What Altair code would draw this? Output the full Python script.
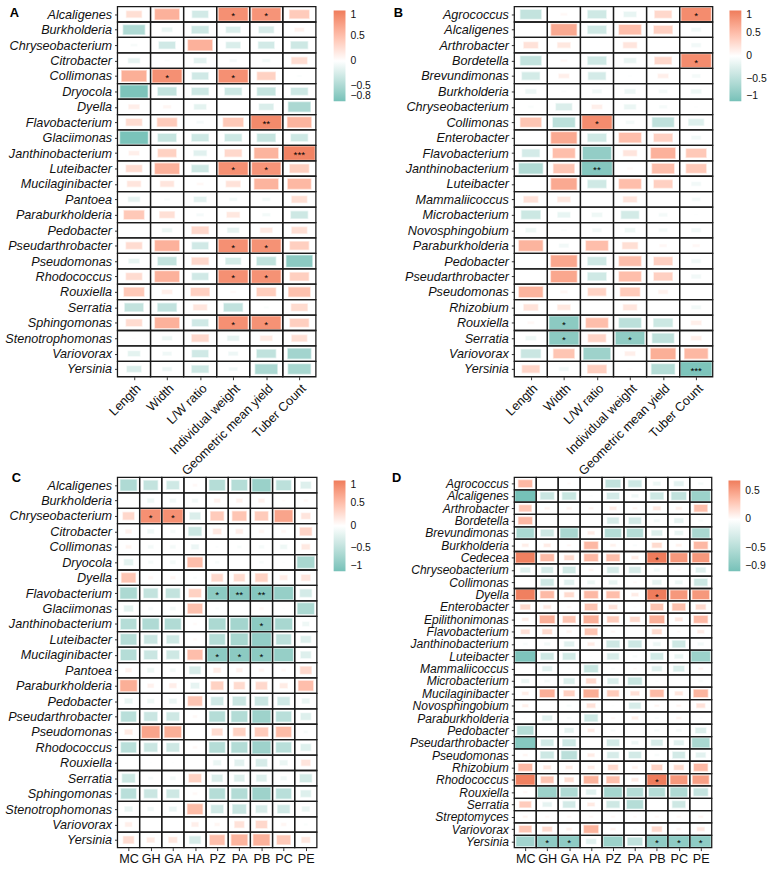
import json

import altair as alt
import pandas as pd

FONT = "Liberation Sans"
TEAL, WHITE, SALMON = "#76C1B8", "#FFFFFF", "#EF7C5C"

TRAITS = ["Length", "Width", "L/W ratio", "Individual weight",
          "Geometric mean yield", "Tuber Count"]
SITES = ["MC", "GH", "GA", "HA", "PZ", "PA", "PB", "PC", "PE"]

# ---------------- Panel A: genera vs tuber traits ----------------
A_GENERA = ["Alcaligenes", "Burkholderia", "Chryseobacterium", "Citrobacter",
            "Collimonas", "Dryocola", "Dyella", "Flavobacterium", "Glaciimonas",
            "Janthinobacterium", "Luteibacter", "Mucilaginibacter", "Pantoea",
            "Paraburkholderia", "Pedobacter", "Pseudarthrobacter", "Pseudomonas",
            "Rhodococcus", "Rouxiella", "Serratia", "Sphingomonas",
            "Stenotrophomonas", "Variovorax", "Yersinia"]
A_VALUES = [
    [0.25, 0.60, -0.27, 0.85, 0.82, 0.40],
    [-0.48, -0.12, -0.30, -0.22, -0.24, 0.10],
    [-0.05, -0.28, 0.60, -0.22, -0.27, -0.30],
    [-0.15, -0.03, -0.17, -0.06, -0.07, 0.26],
    [0.62, 0.85, -0.28, 0.85, 0.35, -0.03],
    [-0.76, -0.36, -0.30, -0.30, -0.35, -0.30],
    [0.13, 0.07, -0.16, 0.01, -0.22, -0.50],
    [0.27, 0.40, -0.06, 0.42, 0.90, 0.58],
    [-0.78, -0.35, -0.30, -0.30, -0.35, -0.30],
    [0.12, 0.35, -0.18, 0.30, 0.58, 0.95],
    [0.27, 0.60, -0.30, 0.85, 0.82, 0.38],
    [0.20, 0.20, 0.05, 0.22, 0.58, 0.55],
    [-0.15, -0.04, -0.17, -0.07, -0.07, 0.25],
    [0.42, 0.24, -0.06, 0.18, -0.07, -0.30],
    [0.02, -0.11, 0.30, -0.15, 0.16, 0.25],
    [0.27, 0.60, -0.28, 0.85, 0.84, 0.37],
    [-0.13, -0.36, 0.30, -0.25, -0.38, -0.68],
    [0.27, 0.60, -0.28, 0.85, 0.84, 0.37],
    [0.42, 0.12, 0.36, 0.04, 0.38, 0.48],
    [-0.36, -0.37, 0.20, -0.37, -0.03, 0.28],
    [0.27, 0.60, -0.28, 0.85, 0.84, 0.37],
    [0.02, -0.11, 0.30, -0.15, 0.16, 0.25],
    [-0.16, -0.09, -0.28, -0.10, -0.38, -0.55],
    [-0.22, -0.10, -0.30, -0.08, -0.50, -0.52],
]
A_STARS = [
    ("Alcaligenes", "Individual weight", "*"), ("Alcaligenes", "Geometric mean yield", "*"),
    ("Collimonas", "Width", "*"), ("Collimonas", "Individual weight", "*"),
    ("Flavobacterium", "Geometric mean yield", "**"),
    ("Janthinobacterium", "Tuber Count", "***"),
    ("Luteibacter", "Individual weight", "*"), ("Luteibacter", "Geometric mean yield", "*"),
    ("Pseudarthrobacter", "Individual weight", "*"), ("Pseudarthrobacter", "Geometric mean yield", "*"),
    ("Rhodococcus", "Individual weight", "*"), ("Rhodococcus", "Geometric mean yield", "*"),
    ("Sphingomonas", "Individual weight", "*"), ("Sphingomonas", "Geometric mean yield", "*"),
]

# ---------------- Panel B ----------------
B_GENERA = ["Agrococcus", "Alcaligenes", "Arthrobacter", "Bordetella",
            "Brevundimonas", "Burkholderia", "Chryseobacterium", "Collimonas",
            "Enterobacter", "Flavobacterium", "Janthinobacterium", "Luteibacter",
            "Mammaliicoccus", "Microbacterium", "Novosphingobium",
            "Paraburkholderia", "Pedobacter", "Pseudarthrobacter", "Pseudomonas",
            "Rhizobium", "Rouxiella", "Serratia", "Variovorax", "Yersinia"]
B_VALUES = [
    [-0.45, 0.05, -0.36, -0.17, 0.30, 0.88],
    [0.01, 0.66, -0.36, 0.50, 0.36, -0.10],
    [0.22, 0.18, 0.01, 0.20, 0.01, -0.10],
    [-0.45, 0.05, -0.36, -0.16, 0.30, 0.88],
    [-0.33, 0.12, -0.32, -0.02, 0.12, -0.08],
    [-0.13, -0.03, -0.10, -0.13, -0.08, -0.12],
    [-0.04, -0.27, 0.12, -0.15, -0.07, -0.02],
    [0.45, -0.50, 0.88, -0.08, -0.48, -0.25],
    [0.01, 0.66, -0.36, 0.50, 0.36, -0.10],
    [-0.32, 0.50, -0.80, 0.20, 0.60, 0.42],
    [-0.58, 0.45, -0.90, 0.04, 0.50, 0.42],
    [0.01, 0.66, -0.36, 0.50, 0.36, -0.10],
    [0.22, 0.18, 0.01, 0.20, 0.01, -0.08],
    [-0.38, -0.17, -0.12, -0.33, -0.08, -0.02],
    [-0.12, -0.04, -0.09, -0.12, -0.08, -0.10],
    [0.58, -0.10, 0.50, 0.25, 0.06, 0.06],
    [0.00, 0.68, -0.36, 0.50, 0.36, -0.10],
    [0.00, 0.68, -0.36, 0.50, 0.36, -0.10],
    [0.58, 0.06, 0.34, 0.40, 0.10, 0.01],
    [0.22, 0.18, 0.01, 0.20, 0.01, -0.10],
    [0.05, -0.85, 0.50, -0.50, -0.38, 0.12],
    [-0.12, -0.85, 0.33, -0.82, -0.48, 0.12],
    [-0.40, 0.45, -0.72, 0.12, 0.62, 0.55],
    [0.32, -0.10, 0.37, 0.03, -0.55, -0.95],
]
B_STARS = [
    ("Agrococcus", "Tuber Count", "*"), ("Bordetella", "Tuber Count", "*"),
    ("Collimonas", "L/W ratio", "*"), ("Janthinobacterium", "L/W ratio", "**"),
    ("Rouxiella", "Width", "*"), ("Serratia", "Width", "*"),
    ("Serratia", "Individual weight", "*"), ("Yersinia", "Tuber Count", "***"),
]

# ---------------- Panel C: genera vs sites ----------------
C_GENERA = A_GENERA
C_VALUES = [
    [-0.60, -0.45, -0.36, 0.05, -0.55, -0.55, -0.75, -0.50, -0.25],
    [-0.01, -0.12, -0.10, -0.09, 0.10, 0.10, 0.10, 0.03, 0.05],
    [0.30, 0.85, 0.85, -0.27, 0.40, 0.45, 0.40, 0.70, 0.20],
    [0.10, -0.11, -0.07, -0.38, 0.17, 0.13, 0.07, 0.06, 0.33],
    [0.08, -0.08, -0.08, -0.14, -0.03, -0.05, -0.07, -0.12, 0.17],
    [-0.20, -0.07, -0.08, 0.50, -0.05, -0.01, -0.05, -0.02, -0.65],
    [0.45, 0.06, 0.07, -0.04, 0.30, 0.28, 0.35, 0.14, 0.20],
    [-0.62, -0.45, -0.45, 0.35, -0.85, -0.90, -0.90, -0.78, -0.32],
    [-0.20, -0.06, -0.08, 0.48, -0.04, 0.01, 0.05, -0.02, -0.62],
    [-0.55, -0.60, -0.58, 0.04, -0.62, -0.68, -0.85, -0.65, -0.12],
    [-0.55, -0.40, -0.36, 0.04, -0.55, -0.65, -0.80, -0.50, -0.25],
    [-0.55, -0.40, -0.37, 0.50, -0.85, -0.85, -0.85, -0.78, -0.25],
    [0.10, -0.12, -0.08, -0.30, 0.14, 0.10, 0.07, 0.05, 0.30],
    [0.62, 0.10, 0.13, -0.18, 0.35, 0.28, 0.30, 0.15, 0.50],
    [-0.15, -0.12, -0.14, 0.45, -0.35, -0.40, -0.40, -0.35, -0.15],
    [-0.52, -0.40, -0.37, 0.05, -0.55, -0.57, -0.72, -0.52, -0.25],
    [0.15, 0.70, 0.62, 0.01, 0.27, 0.35, 0.40, 0.52, -0.05],
    [-0.52, -0.40, -0.37, 0.05, -0.55, -0.57, -0.72, -0.52, -0.25],
    [0.01, -0.02, -0.02, 0.01, -0.15, -0.22, -0.30, -0.15, 0.20],
    [-0.38, -0.06, -0.08, 0.35, -0.27, -0.25, -0.25, -0.10, -0.33],
    [-0.52, -0.40, -0.37, 0.05, -0.55, -0.57, -0.72, -0.52, -0.25],
    [-0.15, -0.10, -0.14, 0.52, -0.35, -0.42, -0.30, -0.35, -0.15],
    [0.12, 0.00, 0.01, 0.12, 0.07, 0.22, 0.30, 0.07, -0.04],
    [0.27, 0.15, 0.18, -0.30, 0.50, 0.58, 0.60, 0.42, 0.18],
]
C_STARS = [
    ("Chryseobacterium", "GH", "*"), ("Chryseobacterium", "GA", "*"),
    ("Flavobacterium", "PZ", "*"), ("Flavobacterium", "PA", "**"),
    ("Flavobacterium", "PB", "**"), ("Janthinobacterium", "PB", "*"),
    ("Mucilaginibacter", "PZ", "*"), ("Mucilaginibacter", "PA", "*"),
    ("Mucilaginibacter", "PB", "*"),
]

# ---------------- Panel D ----------------
D_GENERA = ["Agrococcus", "Alcaligenes", "Arthrobacter", "Bordetella",
            "Brevundimonas", "Burkholderia", "Cedecea", "Chryseobacterium",
            "Collimonas", "Dyella", "Enterobacter", "Epilithonimonas",
            "Flavobacterium", "Janthinobacterium", "Luteibacter",
            "Mammaliicoccus", "Microbacterium", "Mucilaginibacter",
            "Novosphingobium", "Paraburkholderia", "Pedobacter",
            "Pseudarthrobacter", "Pseudomonas", "Rhizobium", "Rhodococcus",
            "Rouxiella", "Serratia", "Streptomyces", "Variovorax", "Yersinia"]
D_VALUES = [
    [0.37, 0.00, 0.03, 0.00, -0.42, -0.34, -0.12, -0.19, -0.06],
    [-0.90, -0.36, -0.37, -0.03, -0.30, -0.10, -0.34, -0.42, -0.66],
    [0.30, 0.06, 0.06, 0.05, 0.10, 0.05, 0.12, 0.08, 0.34],
    [0.37, 0.00, 0.01, 0.00, -0.27, -0.30, -0.08, -0.17, -0.05],
    [-0.57, -0.33, -0.58, 0.10, -0.50, -0.50, -0.23, -0.15, -0.57],
    [0.09, 0.10, 0.04, 0.37, 0.07, -0.04, 0.19, 0.07, 0.37],
    [0.66, 0.36, 0.19, 0.37, 0.34, 0.10, 0.68, 0.54, 0.54],
    [-0.20, -0.27, -0.31, 0.05, -0.27, -0.27, -0.08, 0.03, -0.20],
    [0.00, -0.33, -0.20, -0.12, -0.15, 0.03, -0.17, -0.12, -0.34],
    [0.66, 0.36, 0.19, 0.37, 0.34, 0.10, 0.68, 0.54, 0.54],
    [0.20, 0.12, 0.04, 0.31, 0.15, 0.02, 0.31, 0.33, 0.20],
    [0.09, 0.42, 0.31, 0.42, 0.27, 0.20, 0.42, 0.12, 0.37],
    [0.16, 0.19, 0.06, 0.31, 0.04, 0.01, 0.19, 0.03, 0.10],
    [-0.05, -0.08, -0.20, 0.10, -0.33, -0.34, -0.12, -0.33, -0.08],
    [-0.85, -0.33, -0.31, -0.02, -0.27, -0.05, -0.31, -0.15, -0.66],
    [0.00, -0.19, -0.02, -0.37, -0.04, 0.03, -0.20, -0.24, 0.05],
    [-0.13, -0.07, -0.24, 0.20, -0.24, -0.37, -0.03, 0.00, -0.05],
    [0.09, 0.42, 0.24, 0.43, 0.27, 0.16, 0.36, 0.13, 0.39],
    [0.08, 0.00, -0.05, 0.15, -0.02, -0.27, 0.05, 0.05, 0.15],
    [0.02, -0.20, -0.05, -0.34, 0.04, 0.09, -0.04, 0.06, -0.03],
    [-0.50, -0.02, -0.17, 0.10, -0.05, 0.02, -0.06, -0.07, -0.23],
    [-0.80, -0.31, -0.34, 0.00, -0.30, -0.10, -0.27, -0.20, -0.57],
    [0.05, -0.34, -0.46, 0.10, -0.27, -0.30, -0.05, -0.30, -0.19],
    [0.37, 0.12, 0.10, 0.10, 0.20, 0.07, 0.23, 0.19, 0.37],
    [0.66, 0.31, 0.17, 0.40, 0.33, 0.10, 0.68, 0.54, 0.50],
    [0.04, -0.66, -0.54, -0.20, -0.60, -0.50, -0.50, -0.54, -0.39],
    [0.27, -0.17, -0.30, 0.11, -0.33, -0.50, -0.01, -0.33, 0.00],
    [0.05, 0.04, 0.04, 0.04, 0.04, 0.03, 0.04, 0.04, 0.05],
    [0.30, 0.19, 0.07, 0.40, 0.06, -0.03, 0.20, 0.05, 0.12],
    [-0.62, -0.75, -0.75, -0.20, -0.66, -0.42, -0.75, -0.75, -0.75],
]
D_STARS = [
    ("Cedecea", "PB", "*"), ("Dyella", "PB", "*"), ("Rhodococcus", "PB", "*"),
    ("Yersinia", "GH", "*"), ("Yersinia", "GA", "*"), ("Yersinia", "PB", "*"),
    ("Yersinia", "PC", "*"), ("Yersinia", "PE", "*"),
]


def long_table(rows, cols, values):
    recs = []
    for j, (genus, vals) in enumerate(zip(rows, values)):
        for i, (var, r) in enumerate(zip(cols, vals)):
            recs.append({"genus": genus, "var": var, "col": i, "row": j, "r": r})
    return pd.DataFrame(recs)


def star_table(rows, cols, stars):
    return pd.DataFrame([{"col": cols.index(c), "row": rows.index(g), "stars": s}
                         for g, c, s in stars])


def names_expr(names):
    return json.dumps(names) + "[datum.value]"


def panel(letter, letter_pos, rows, cols, values, stars, lo, hi, legend_values,
          legend_pos, size_max, width, height, rotate, row_font=12.8):
    ncol, nrow = len(cols), len(rows)
    cells = long_table(rows, cols, values)

    x_scale = alt.Scale(domain=[-0.5, ncol - 0.5], nice=False, zero=False)
    y_scale = alt.Scale(domain=[-0.5, nrow - 0.5], nice=False, zero=False, reverse=True)
    x_axis = alt.Axis(values=list(range(ncol)), labelExpr=names_expr(cols), title=None,
                      grid=False, domain=False, ticks=True, tickSize=3, tickColor="#333333",
                      labelFontSize=12.8, labelColor="#111111", labelOverlap=False,
                      labelFlush=False, labelBound=False,
                      labelAngle=-45 if rotate else 0,
                      labelAlign="right" if rotate else "center",
                      labelBaseline="top", labelPadding=2)
    y_axis = alt.Axis(values=list(range(nrow)), labelExpr=names_expr(rows), title=None,
                      grid=False, domain=False, ticks=True, tickSize=3, tickColor="#333333",
                      labelFontSize=row_font, labelFontStyle="italic", labelColor="#111111",
                      labelOverlap=False, labelFlush=False, labelBound=False, labelPadding=3)
    color_scale = alt.Scale(domain=[lo, 0, hi], range=[TEAL, WHITE, SALMON],
                            interpolate="lab")

    # tile side scales with sqrt(|r|), so tile area follows |r|
    half = f"0.485 * min(1, sqrt(abs(datum.r) / {size_max}))"
    tiles = alt.Chart(cells).transform_calculate(
        x0=f"datum.col - {half}", x1=f"datum.col + {half}",
        y0=f"datum.row - {half}", y1=f"datum.row + {half}",
    ).mark_rect(stroke="white", strokeWidth=1.6, strokeOpacity=0.55).encode(
        x=alt.X("x0:Q", scale=x_scale, axis=x_axis),
        x2="x1:Q",
        y=alt.Y("y0:Q", scale=y_scale, axis=y_axis),
        y2="y1:Q",
        color=alt.Color("r:Q", scale=color_scale,
                        legend=alt.Legend(type="gradient", title=None,
                                          values=legend_values,
                                          labelExpr="format(datum.value, '~g')",
                                          labelOverlap=False,
                                          gradientLength=92, gradientThickness=12,
                                          labelFontSize=10.5, labelColor="#111111",
                                          padding=0, labelOffset=5,
                                          direction="vertical", orient="none",
                                          legendX=legend_pos[0], legendY=legend_pos[1])),
    )

    grid = alt.Chart(cells).transform_calculate(
        gx0="datum.col - 0.5", gx1="datum.col + 0.5",
        gy0="datum.row - 0.5", gy1="datum.row + 0.5",
    ).mark_rect(filled=False, stroke="#1a1a1a", strokeWidth=1.3).encode(
        x=alt.X("gx0:Q", scale=x_scale, axis=x_axis),
        x2="gx1:Q",
        y=alt.Y("gy0:Q", scale=y_scale, axis=y_axis),
        y2="gy1:Q",
    )

    marks = alt.Chart(star_table(rows, cols, stars)).mark_text(
        fontSize=10, color="black", baseline="middle", dy=2
    ).encode(
        x=alt.X("col:Q", scale=x_scale, axis=x_axis),
        y=alt.Y("row:Q", scale=y_scale, axis=y_axis),
        text="stars:N",
    )

    tag = alt.Chart(pd.DataFrame({"tag": [letter]})).mark_text(
        fontSize=13, fontWeight="bold", color="black", align="left", baseline="top"
    ).encode(
        x=alt.value(letter_pos[0]), y=alt.value(letter_pos[1]), text="tag:N"
    )

    return alt.layer(tiles, grid, marks, tag).properties(width=width, height=height)


pa = panel("A", (-109, 1), A_GENERA, TRAITS, A_VALUES, A_STARS, -0.8, 1.0,
           [1, 0.5, 0, -0.5, -0.8], (219, 4), 0.95, 201, 375, True)
pb = panel("B", (-122, 1), B_GENERA, TRAITS, B_VALUES, B_STARS, -1.0, 1.0,
           [1, 0.5, 0, -0.5, -1], (218, 4), 0.95, 201, 375, True)
pc = panel("C", (-107, -5), C_GENERA, SITES, C_VALUES, C_STARS, -1.0, 1.0,
           [1, 0.5, 0, -0.5, -1], (219, 3), 0.9, 202, 375, False)
pd_ = panel("D", (-124, -5), D_GENERA, SITES, D_VALUES, D_STARS, -0.9, 0.68,
            [0.5, 0, -0.5, -0.9], (217, 3), 0.75, 200, 375, False, row_font=12.2)

# panels sit on a 2x2 grid whose spacing is measured between plot areas
chart = alt.concat(pa, pb, pc, pd_, columns=2).properties(
    bounds="flush", spacing={"row": 102, "column": 200},
    padding={"left": 4, "top": 0, "right": 0, "bottom": 0},
).resolve_scale(color="independent", x="independent", y="independent").configure_view(
    stroke=None
).configure_axis(labelFont=FONT).configure_legend(labelFont=FONT).configure_text(font=FONT)

chart.save("out.html", embed_options={"renderer": "svg", "actions": False})
